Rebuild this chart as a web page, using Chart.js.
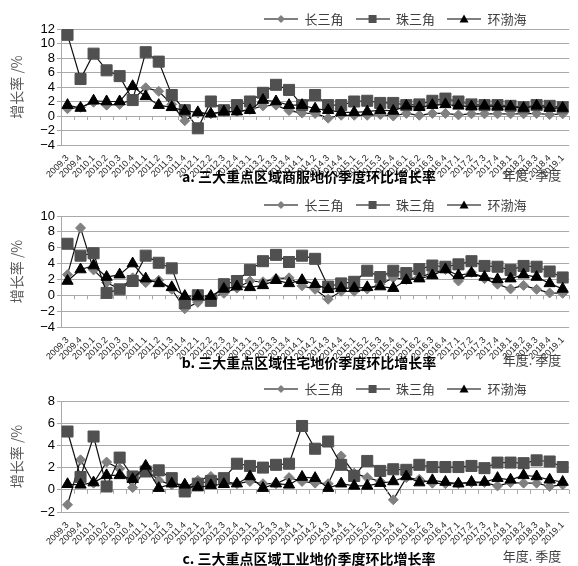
<!DOCTYPE html>
<html>
<head>
  <meta charset="utf-8">
  <title>三大重点区域地价季度环比增长率</title>
  <script src="https://cdn.jsdelivr.net/npm/chart.js"></script>
  <style>
    body {
      margin: 0;
      background: #fff;
      width: 578px;
      height: 566px;
      overflow: hidden;
    }
    .panel {
      position: absolute;
      left: 0;
      width: 578px;
    }
  </style>
</head>
<body>
  <div class="panel" style="top:0;height:188px"><canvas id="chartA"></canvas></div>
  <div class="panel" style="top:188px;height:188px"><canvas id="chartB"></canvas></div>
  <div class="panel" style="top:376px;height:190px"><canvas id="chartC"></canvas></div>

  <script>
    // quarters on the x axis
    const quarters = [
      '2009.3', '2009.4',
      '2010.1', '2010.2', '2010.3', '2010.4',
      '2011.1', '2011.2', '2011.3', '2011.4',
      '2012.1', '2012.2', '2012.3', '2012.4',
      '2013.1', '2013.2', '2013.3', '2013.4',
      '2014.1', '2014.2', '2014.3', '2014.4',
      '2015.1', '2015.2', '2015.3', '2015.4',
      '2016.1', '2016.2', '2016.3', '2016.4',
      '2017.1', '2017.2', '2017.3', '2017.4',
      '2018.1', '2018.2', '2018.3', '2018.4',
      '2019.1'
    ];
    const regionNames = ['长三角', '珠三角', '环渤海'];

    // a. 商服地价 (%)
    const commercialYRD = [1.0, 1.2, 1.9, 1.5, 1.6, 2.3, 3.9, 3.4, 1.6, -0.65, 0.4, 0.3, 0.6, 0.6, 0.9, 1.4, 1.5, 0.75,
      0.4, 0.35, -0.3, 0.1, 0.1, 0.1, 0.2, 0.0, 0.35, 0.1, 0.35, 0.35, 0.15, 0.3, 0.3, 0.3, 0.3, 0.3, 0.35, 0.2, 0.3];
    const commercialPRD = [11.2, 5.1, 8.6, 6.3, 5.5, 2.2, 8.8, 7.5, 2.9, 0.8, -1.7, 2.0, 0.8, 1.5, 2.0, 3.2, 4.3, 3.6,
      1.5, 2.9, 1.5, 1.5, 2.0, 2.1, 1.8, 1.8, 1.5, 1.6, 2.1, 2.4, 2.0, 1.6, 1.5, 1.5, 1.4, 1.2, 1.5, 1.4, 1.2];
    const commercialBohai = [1.5, 1.1, 2.1, 2.0, 2.0, 4.1, 2.7, 1.5, 1.2, 0.7, 0.5, 0.3, 0.6, 0.6, 0.8, 2.2, 2.0, 1.5,
      1.5, 1.0, 0.8, 0.5, 0.5, 0.6, 0.8, 0.7, 1.4, 1.2, 1.5, 1.6, 1.4, 1.3, 1.4, 1.3, 1.3, 1.1, 1.4, 1.1, 1.1];

    // b. 住宅地价 (%)
    const residentialYRD = [2.6, 8.5, 3.2, 1.6, 0.8, 2.2, 1.6, 1.9, 0.75, -1.7, -0.9, -0.3, 0.25, 0.9, 1.8, 1.7, 2.1, 2.2,
      1.2, 0.75, -0.5, 0.5, 0.5, 0.8, 1.4, 2.2, 2.0, 2.3, 2.8, 3.25, 1.8, 2.9, 2.1, 1.4, 0.8, 1.25, 0.75, 0.3, 0.25];
    const residentialPRD = [6.5, 5.0, 5.3, 0.3, 0.75, 1.8, 5.0, 4.1, 3.4, -1.0, 0.0, -0.7, 1.4, 1.8, 3.2, 4.3, 5.1, 4.2,
      5.0, 4.6, 1.1, 1.5, 1.7, 3.1, 2.3, 3.1, 2.8, 3.3, 3.75, 3.6, 3.9, 4.3, 3.7, 3.6, 3.2, 3.7, 3.6, 3.0, 2.25];
    const residentialBohai = [1.8, 3.25, 3.75, 2.3, 2.6, 4.0, 2.1, 1.5, 1.0, -0.1, -0.1, -0.1, 0.8, 1.1, 1.0, 1.25, 1.9, 1.5,
      1.9, 1.4, 0.75, 0.9, 0.9, 1.0, 1.1, 0.9, 1.9, 2.1, 2.5, 3.25, 2.5, 2.8, 2.3, 2.0, 2.1, 2.6, 2.3, 1.5, 0.8];

    // c. 工业地价 (%)
    const industrialYRD = [-1.35, 2.7, 0.6, 2.5, 1.9, 0.2, 1.85, 0.85, 0.45, 0.15, 0.85, 1.2, 0.75, 0.55, 0.75, 0.55, 0.55, 1.1,
      0.75, 0.6, 0.55, 3.05, 1.5, 1.1, 0.75, -0.9, 1.1, 0.95, 0.6, 0.55, 0.55, 0.65, 0.65, 0.35, 0.65, 0.6, 0.6, 0.3, 0.45];
    const industrialPRD = [5.25, 1.15, 4.8, 0.3, 2.9, 1.2, 1.65, 1.75, 1.05, -0.15, 0.55, 0.8, 1.05, 2.35, 2.15, 2.0, 2.25, 2.35,
      5.75, 3.7, 4.35, 2.25, 1.25, 2.6, 1.7, 1.85, 1.8, 2.25, 2.05, 2.05, 2.05, 2.15, 1.95, 2.45, 2.45, 2.4, 2.65, 2.55, 2.05];
    const industrialBohai = [0.5, 0.45, 0.65, 1.3, 1.3, 0.95, 2.15, 0.15, 0.55, 0.45, 0.2, 0.4, 0.5, 0.55, 1.2, 0.15, 0.55, 0.45,
      1.15, 1.05, 0.15, 0.55, 0.35, 0.35, 0.6, 0.75, 1.2, 0.65, 0.85, 0.7, 0.55, 0.7, 0.7, 1.05, 0.9, 1.3, 1.2, 0.9, 0.7];

    const CJK = '"Noto Sans CJK SC", sans-serif';
    const GRID = '#a9a9a9';

    // marker look for the three regions
    const markers = [
      { style: 'rectRot', color: '#808080', radius: 5, order: 3 },
      { style: 'rect', color: '#505050', radius: 7.8, order: 2 },
      { style: 'triangle', color: '#000000', radius: 6.5, order: 1 }
    ];

    // small legend icon: line with the marker in the middle
    function makeIcon(kind, color) {
      const c = document.createElement('canvas');
      c.width = 34; c.height = 14;
      const ctx = c.getContext('2d');
      ctx.strokeStyle = '#000';
      ctx.lineWidth = 1.2;
      ctx.beginPath(); ctx.moveTo(0, 7); ctx.lineTo(34, 7); ctx.stroke();
      ctx.fillStyle = color;
      ctx.beginPath();
      if (kind === 'rectRot') {
        ctx.moveTo(17, 3); ctx.lineTo(21, 7); ctx.lineTo(17, 11); ctx.lineTo(13, 7);
      } else if (kind === 'rect') {
        ctx.rect(13, 3, 8, 8);
      } else {
        ctx.moveTo(17, 2.5); ctx.lineTo(21.5, 10.5); ctx.lineTo(12.5, 10.5);
      }
      ctx.closePath();
      ctx.fill();
      return c;
    }
    const icons = markers.map(m => makeIcon(m.style, m.color));

    // moves the legend to where it sits in the original figure
    const legendShift = {
      id: 'legendShift',
      afterLayout(chart) {
        const cfg = chart.options.plugins.legendShift;
        const l = chart.legend;
        if (!cfg || !l || !l.lineWidths) return;
        const pad = chart.options.plugins.legend.labels.padding;
        const start = (l.left + pad + l.right - l.lineWidths[0]) / 2;
        const dx = cfg.x - start;
        const dy = cfg.y - (l.top + pad + 6.5);
        l.left += dx; l.right += dx;
        l.top += dy; l.bottom += dy;
      }
    };

    // panel caption, x-axis note and the small ticks on the zero line
    const panelText = {
      id: 'panelText',
      afterDraw(chart) {
        const cfg = chart.options.plugins.panelText;
        const ctx = chart.ctx;
        const x = chart.scales.x, y = chart.scales.y;
        const y0 = y.getPixelForValue(0);
        ctx.save();
        ctx.strokeStyle = GRID;
        ctx.lineWidth = 1;
        for (let i = 0; i <= quarters.length; i++) {
          const px = Math.round(x.getPixelForValue(i - 0.5)) + 0.5;
          ctx.beginPath(); ctx.moveTo(px, y0); ctx.lineTo(px, y0 + 4); ctx.stroke();
        }
        ctx.textBaseline = 'middle';
        ctx.textAlign = 'center';
        ctx.fillStyle = '#000';
        ctx.font = 'bold 14px ' + CJK;
        ctx.fillText(cfg.title, 309, cfg.titleY);
        ctx.fillStyle = '#404040';
        ctx.font = '13px ' + CJK;
        ctx.fillText('年度. 季度', 532, cfg.noteY);
        ctx.restore();
      }
    };

    function makePanel(id, series, p) {
      const datasets = series.map((values, i) => ({
        label: regionNames[i],
        data: values,
        order: markers[i].order,
        borderColor: '#111',
        borderWidth: 1.2,
        pointStyle: markers[i].style,
        pointRadius: markers[i].radius,
        pointBackgroundColor: markers[i].color,
        pointBorderColor: markers[i].color,
        pointBorderWidth: 1,
        tension: 0
      }));

      return new Chart(document.getElementById(id), {
        type: 'line',
        data: { labels: quarters, datasets: datasets },
        plugins: [legendShift, panelText],
        options: {
          animation: false,
          responsive: true,
          maintainAspectRatio: false,
          layout: { padding: 0 },
          plugins: {
            tooltip: { enabled: false },
            legend: {
              position: 'top',
              maxHeight: p.top,
              labels: {
                usePointStyle: true,
                pointStyleWidth: 34,
                boxHeight: 13,
                padding: 12,
                color: '#404040',
                font: { family: CJK, size: 13 },
                generateLabels: chart => chart.data.datasets.map((ds, i) => ({
                  text: ds.label,
                  pointStyle: icons[i],
                  datasetIndex: i,
                  fontColor: '#404040',
                  fillStyle: 'transparent',
                  strokeStyle: 'transparent',
                  lineWidth: 0,
                  hidden: false
                }))
              }
            },
            legendShift: { x: 264, y: p.legendY },
            panelText: { title: p.title, titleY: p.titleY, noteY: p.noteY }
          },
          scales: {
            x: {
              offset: true,
              grid: { display: false },
              border: { display: false },
              ticks: {
                autoSkip: false,
                maxRotation: 45,
                minRotation: 45,
                padding: 0,
                color: '#222',
                font: { family: 'Liberation Sans, Arial, sans-serif', size: 9 }
              },
              afterFit: s => { s.height = p.bottomH; }
            },
            y: {
              min: p.min,
              max: p.max,
              grid: { color: GRID, lineWidth: 1, tickLength: 4 },
              border: { display: true, color: GRID },
              ticks: {
                stepSize: 2,
                autoSkip: false,
                padding: 2,
                color: '#000',
                font: { family: 'Liberation Sans, Arial, sans-serif', size: 13 },
                callback: v => v < 0 ? '\u2212' + Math.abs(v) : String(v)
              },
              title: {
                display: true,
                text: '增长率 /%',
                color: '#595959',
                padding: { top: 8, bottom: 0 },
                font: { family: CJK, size: 14 }
              },
              afterFit: s => { s.width = 61; }
            }
          }
        }
      });
    }

    makePanel('chartA', [commercialYRD, commercialPRD, commercialBohai], {
      min: -4, max: 12, top: 29, bottomH: 43, legendY: 19,
      title: 'a. 三大重点区域商服地价季度环比增长率', titleY: 177, noteY: 175
    });
    makePanel('chartB', [residentialYRD, residentialPRD, residentialBohai], {
      min: -4, max: 10, top: 28, bottomH: 49, legendY: 17,
      title: 'b. 三大重点区域住宅地价季度环比增长率', titleY: 175, noteY: 172
    });
    makePanel('chartC', [industrialYRD, industrialPRD, industrialBohai], {
      min: -2, max: 8, top: 25, bottomH: 54, legendY: 13,
      title: 'c. 三大重点区域工业地价季度环比增长率', titleY: 183, noteY: 180
    });
  </script>
</body>
</html>
